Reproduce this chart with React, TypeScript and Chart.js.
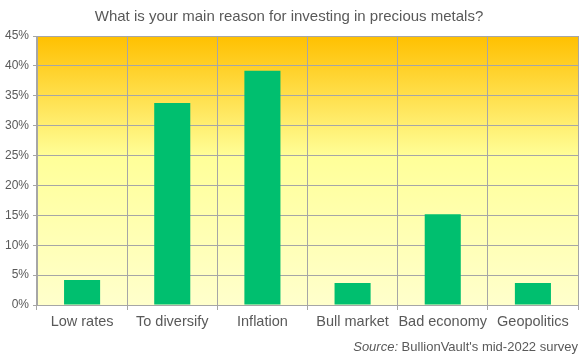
import React, { useEffect, useRef } from "react";
import { Chart, registerables } from "chart.js";

Chart.register(...registerables);

const categories = ["Low rates", "To diversify", "Inflation", "Bull market", "Bad economy", "Geopolitics"];
const values = [4.2, 33.8, 39.2, 3.7, 15.2, 3.7];
const titleText = "What is your main reason for investing in precious metals?";
const sourceLabel = "Source:";
const sourceRest = " BullionVault's mid-2022 survey";

const FONT = "'Liberation Sans', Arial, sans-serif";
const TEXT = "#595959";
const GRID = "#A6A6A6";

const bgPlugin = {
  id: "bgGradient",
  beforeDraw(chart: any) {
    const { ctx, chartArea } = chart;
    if (!chartArea) return;
    const g = ctx.createLinearGradient(0, chartArea.top, 0, chartArea.bottom);
    g.addColorStop(0, "#FFC000");
    g.addColorStop(0.45, "#FFFF99");
    g.addColorStop(1, "#FFFFCC");
    ctx.save();
    ctx.fillStyle = g;
    ctx.fillRect(chartArea.left, chartArea.top, chartArea.right - chartArea.left, chartArea.bottom - chartArea.top);
    ctx.restore();
  },
};

const sourcePlugin = {
  id: "sourceText",
  afterDraw(chart: any) {
    const { ctx, chartArea } = chart;
    ctx.save();
    ctx.fillStyle = TEXT;
    ctx.textBaseline = "alphabetic";
    ctx.textAlign = "left";
    ctx.font = `13px ${FONT}`;
    const wRest = ctx.measureText(sourceRest).width;
    ctx.font = `italic 13px ${FONT}`;
    const wLab = ctx.measureText(sourceLabel).width;
    const right = chartArea.right;
    const y = chart.height - 6;
    const x0 = right - wRest - wLab;
    ctx.fillText(sourceLabel, x0, y);
    ctx.font = `13px ${FONT}`;
    ctx.fillText(sourceRest, x0 + wLab, y);
    ctx.restore();
  },
};

export default function App() {
  const ref = useRef<HTMLCanvasElement | null>(null);
  useEffect(() => {
    if (!ref.current) return;
    const chart = new Chart(ref.current, {
      type: "bar",
      data: {
        labels: categories,
        datasets: [
          {
            data: values,
            backgroundColor: "#00BF6F",
            borderWidth: 0,
            categoryPercentage: 0.8,
            barPercentage: 0.5,
          },
        ],
      },
      options: {
        responsive: false,
        animation: false,
        layout: { padding: { top: 0, right: 4, bottom: 22, left: 0 } },
        plugins: {
          legend: { display: false },
          tooltip: { enabled: false },
          title: {
            display: true,
            text: titleText,
            color: TEXT,
            font: { family: FONT, size: 15, weight: "normal" },
            padding: { top: 8, bottom: 10 },
          },
        },
        scales: {
          x: {
            grid: { color: GRID, lineWidth: 1, offset: true, tickLength: 5, drawTicks: true },
            border: { color: GRID },
            ticks: { color: TEXT, font: { family: FONT, size: 14.5 }, padding: 3, maxRotation: 0, autoSkip: false },
            afterFit(scale: any) {
              scale.height = 30;
            },
          },
          y: {
            min: 0,
            max: 45,
            grid: { color: GRID, lineWidth: 1, tickLength: 4 },
            border: { color: GRID },
            ticks: {
              stepSize: 5,
              color: TEXT,
              font: { family: FONT, size: 12 },
              padding: 4,
              callback: (v: any) => `${v}%`,
            },
            afterFit(scale: any) {
              scale.width = 37;
            },
          },
        },
      },
      plugins: [bgPlugin, sourcePlugin],
    });
    return () => chart.destroy();
  }, []);
  return (
    <div style={{ position: "fixed", left: 0, top: 0, width: 582, height: 357 }}>
      <canvas ref={ref} width={582} height={357} />
    </div>
  );
}
